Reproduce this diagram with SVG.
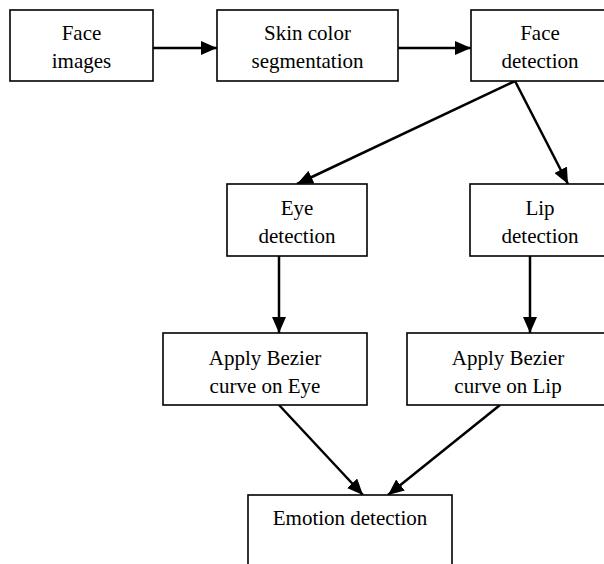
<svg xmlns="http://www.w3.org/2000/svg" width="604" height="564" viewBox="0 0 604 564">
<style>
.box{fill:#fff;stroke:#000;stroke-width:1.6}
.t{font-family:"Liberation Serif","Times New Roman",serif;font-size:21px;fill:#000;text-anchor:middle}
.c{stroke:#000;stroke-width:2.5;fill:none}
</style>
<defs>
<marker id="ah" markerUnits="userSpaceOnUse" markerWidth="17" markerHeight="14" refX="16" refY="7" orient="auto">
<path d="M0,0 L16,7 L0,14 z" fill="#000"/>
</marker>
</defs>
<rect width="604" height="564" fill="#fff"/>
<g id="connectors">
<line class="c" x1="153" y1="48" x2="217" y2="48" marker-end="url(#ah)"/>
<line class="c" x1="398" y1="48" x2="471" y2="48" marker-end="url(#ah)"/>
<line class="c" x1="515" y1="81" x2="297" y2="184" marker-end="url(#ah)"/>
<line class="c" x1="515" y1="81" x2="568" y2="184" marker-end="url(#ah)"/>
<line class="c" x1="279" y1="256" x2="279" y2="333" marker-end="url(#ah)"/>
<line class="c" x1="530" y1="256" x2="530" y2="333" marker-end="url(#ah)"/>
<line class="c" x1="279" y1="405" x2="363" y2="495" marker-end="url(#ah)"/>
<line class="c" x1="500" y1="405" x2="388" y2="495" marker-end="url(#ah)"/>
</g>
<g id="face-images">
<rect class="box" x="10" y="10" width="143" height="71"/>
<text class="t" x="81.5" y="40">Face</text>
<text class="t" x="81.5" y="68">images</text>
</g>
<g id="skin-color">
<rect class="box" x="217" y="10" width="181" height="71"/>
<text class="t" x="307.5" y="40">Skin color</text>
<text class="t" x="307.5" y="68">segmentation</text>
</g>
<g id="face-detection">
<rect class="box" x="471" y="10" width="138" height="71"/>
<text class="t" x="540" y="40">Face</text>
<text class="t" x="540" y="68">detection</text>
</g>
<g id="eye-detection">
<rect class="box" x="227" y="184" width="140" height="72"/>
<text class="t" x="297" y="215">Eye</text>
<text class="t" x="297" y="243">detection</text>
</g>
<g id="lip-detection">
<rect class="box" x="470" y="184" width="140" height="72"/>
<text class="t" x="540" y="215">Lip</text>
<text class="t" x="540" y="243">detection</text>
</g>
<g id="bezier-eye">
<rect class="box" x="163" y="333" width="204" height="72"/>
<text class="t" x="265" y="365">Apply Bezier</text>
<text class="t" x="265" y="393">curve on Eye</text>
</g>
<g id="bezier-lip">
<rect class="box" x="407" y="333" width="203" height="72"/>
<text class="t" x="508" y="365">Apply Bezier</text>
<text class="t" x="508" y="393">curve on Lip</text>
</g>
<g id="emotion-detection">
<rect class="box" x="248" y="495" width="204" height="80"/>
<text class="t" x="350" y="525">Emotion detection</text>
</g>
</svg>
